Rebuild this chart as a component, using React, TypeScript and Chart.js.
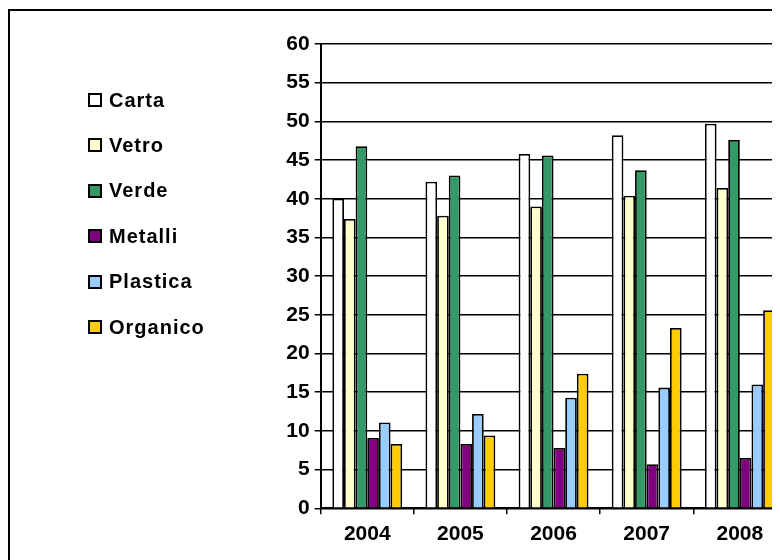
import React, { useEffect, useRef } from "react";
import { Chart, registerables } from "chart.js";

Chart.register(...registerables);

const years = ["2004", "2005", "2006", "2007", "2008"];
const seriesNames = ["Carta", "Vetro", "Verde", "Metalli", "Plastica", "Organico"];
const carta = [40.0, 42.2, 45.8, 48.2, 49.7];
const vetro = [37.4, 37.8, 39.0, 40.4, 41.4];
const verde = [46.8, 43.0, 45.6, 43.7, 47.6];
const metalli = [9.1, 8.3, 7.8, 5.7, 6.5];
const plastica = [11.1, 12.2, 14.3, 15.6, 16.0];
const organico = [8.3, 9.4, 17.4, 23.3, 25.6];
const seriesColors = ["#FFFFFF", "#FFFFCC", "#339966", "#800080", "#99CCFF", "#FFCC00"];
const yMin = 0;
const yMax = 60;
const yStep = 5;

const seriesValues = [carta, vetro, verde, metalli, plastica, organico];
const FONT = '"Liberation Sans", Arial, sans-serif';

export default function App() {
  const canvasRef = useRef<HTMLCanvasElement | null>(null);

  useEffect(() => {
    document.body.style.overflow = "hidden";
    const canvas = canvasRef.current;
    if (!canvas) return;
    const chart = new Chart(canvas, {
      type: "bar",
      data: {
        labels: years,
        datasets: seriesNames.map((name, i) => ({
          label: name,
          data: seriesValues[i],
          backgroundColor: seriesColors[i],
          borderColor: "#000000",
          borderWidth: 1.8,
          categoryPercentage: 0.75,
          barPercentage: 1.0,
        })),
      },
      options: {
        animation: false,
        responsive: false,
        maintainAspectRatio: false,
        layout: { padding: { top: 36, left: 0, right: 21.6, bottom: 0 } },
        plugins: {
          legend: { display: false },
          tooltip: { enabled: false },
        },
        scales: {
          x: {
            offset: true,
            grid: {
              display: true,
              drawOnChartArea: false,
              drawTicks: true,
              tickLength: 6,
              color: "#000000",
              lineWidth: 1.5,
              offset: true,
            },
            border: { display: true, color: "#000000", width: 2 },
            ticks: {
              color: "#000000",
              font: { family: FONT, size: 21, weight: "bold" },
              padding: 7,
              maxRotation: 0,
              autoSkip: false,
            },
            afterFit: (s: any) => {
              s.height = 51.7;
            },
          },
          y: {
            min: yMin,
            max: yMax,
            ticks: {
              stepSize: yStep,
              color: "#000000",
              font: { family: FONT, size: 21, weight: "bold" },
              padding: 5,
            },
            grid: {
              color: "#000000",
              lineWidth: 1.5,
              tickLength: 6,
              drawTicks: true,
            },
            border: { display: true, color: "#000000", width: 2 },
            afterFit: (s: any) => {
              s.width = 312.7;
            },
          },
        },
      },
    });
    return () => chart.destroy();
  }, []);

  return (
    <div style={{ position: "relative", width: 772, height: 552, overflow: "hidden" }}>
      <div
        style={{
          position: "absolute",
          left: 0,
          top: 1,
          width: 900,
          height: 800,
          border: "2px solid #000",
          boxSizing: "border-box",
        }}
      />
      <canvas
        ref={canvasRef}
        width={800}
        height={552}
        style={{ position: "absolute", left: 0, top: 0, width: 800, height: 552 }}
      />
      {seriesNames.map((name, i) => (
        <div
          key={name}
          style={{
            position: "absolute",
            left: 80,
            top: 92 - 12 + i * 45.45,
            height: 24,
            display: "flex",
            alignItems: "center",
            whiteSpace: "nowrap",
          }}
        >
          <span
            style={{
              display: "inline-block",
              width: 14,
              height: 14,
              boxSizing: "border-box",
              border: "2px solid #000",
              background: seriesColors[i],
            }}
          />
          <span
            style={{
              marginLeft: 7,
              fontFamily: FONT,
              fontWeight: "bold",
              fontSize: 20,
              letterSpacing: 1,
              color: "#000",
            }}
          >
            {name}
          </span>
        </div>
      ))}
    </div>
  );
}
